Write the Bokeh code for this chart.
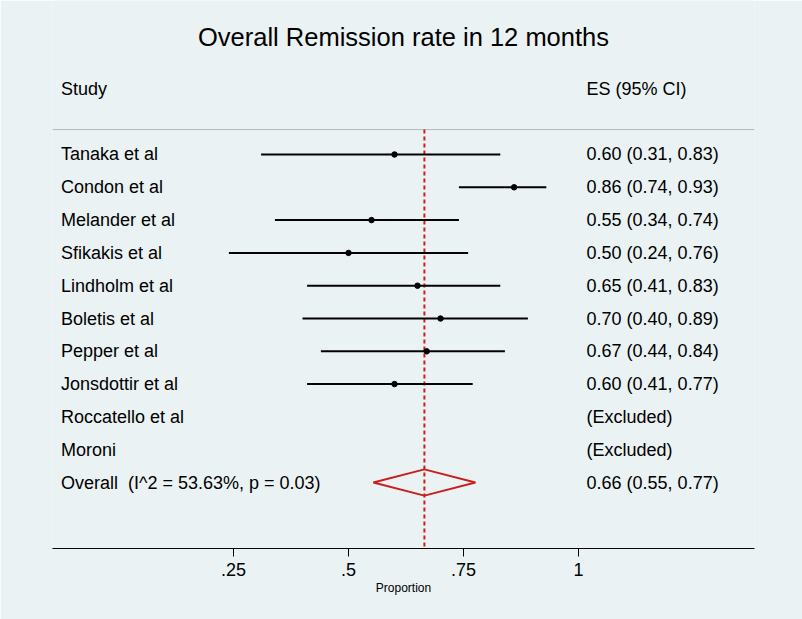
import math
from bokeh.plotting import figure
from bokeh.models import Range1d, FixedTicker, ColumnDataSource
from bokeh.core.properties import value
from bokeh.embed import file_html
from bokeh.resources import INLINE

# ---------------- data ----------------
title_text = "Overall Remission rate in 12 months"
studies = ["Tanaka et al", "Condon et al", "Melander et al", "Sfikakis et al",
           "Lindholm et al", "Boletis et al", "Pepper et al", "Jonsdottir et al",
           "Roccatello et al", "Moroni"]
es = [0.60, 0.86, 0.55, 0.50, 0.65, 0.70, 0.67, 0.60, None, None]
ci_lo = [0.31, 0.74, 0.34, 0.24, 0.41, 0.40, 0.44, 0.41, None, None]
ci_hi = [0.83, 0.93, 0.74, 0.76, 0.83, 0.89, 0.84, 0.77, None, None]
es_labels = ["0.60 (0.31, 0.83)", "0.86 (0.74, 0.93)", "0.55 (0.34, 0.74)",
             "0.50 (0.24, 0.76)", "0.65 (0.41, 0.83)", "0.70 (0.40, 0.89)",
             "0.67 (0.44, 0.84)", "0.60 (0.41, 0.77)", "(Excluded)", "(Excluded)"]
overall_label = "Overall\u00a0\u00a0(I^2 = 53.63%, p = 0.03)"
overall_es = 0.665
overall_lo = 0.554
overall_hi = 0.776
overall_es_label = "0.66 (0.55, 0.77)"
tick_values = [0.25, 0.5, 0.75, 1.0]
tick_labels = [".25", ".5", ".75", "1"]
x_axis_title = "Proportion"

# ---------------- layout ----------------
BG = "#EAF2F3"
RED = "#CC1E1E"
FONT = "Liberation Sans"
FS = "18px"
ROW_TOP = -3.695
ROW_BOTTOM = 13.012
X_START, X_END = -0.1435, 1.3826
LEFT_COL = -0.125
RIGHT_COL = 1.0175
TITLE_ROW = -2.57
HEADER_ROW = -1.01
HLINE_ROW = 0.24
DIAMOND_HALF = 0.4

p = figure(width=802, height=619, output_backend="svg", toolbar_location=None,
           x_range=Range1d(X_START, X_END), y_range=Range1d(ROW_BOTTOM, ROW_TOP),
           min_border_left=52, min_border_right=48, min_border_top=0,
           min_border_bottom=71)
p.background_fill_color = BG
p.border_fill_color = BG
p.outline_line_color = None
p.xgrid.visible = False
p.ygrid.visible = False
p.yaxis.visible = False

ax = p.xaxis[0]
ax.ticker = FixedTicker(ticks=tick_values)
ax.major_label_overrides = {v: l for v, l in zip(tick_values, tick_labels)}
ax.axis_line_color = "black"
ax.axis_line_width = 1
ax.major_tick_in = 0
ax.major_tick_out = 8
ax.major_tick_line_color = "black"
ax.minor_tick_line_color = None
ax.major_label_text_font = FONT
ax.major_label_text_font_size = FS
ax.major_label_text_color = "black"
ax.major_label_standoff = 6
ax.axis_label = x_axis_title
ax.axis_label_text_font = FONT
ax.axis_label_text_font_size = "12px"
ax.axis_label_text_font_style = "normal"
ax.axis_label_text_color = "black"
ax.axis_label_standoff = 2

n = len(studies)
rows = list(range(1, n + 1))
overall_row = n + 1

# title
p.text(x=[(X_START + X_END) / 2], y=[TITLE_ROW], text=[title_text],
       text_font=value(FONT), text_font_size="25.5px", text_align="center",
       text_baseline="middle", text_color="black")

# headers
p.text(x=[LEFT_COL], y=[HEADER_ROW], text=["Study"], text_font=value(FONT),
       text_font_size=FS, text_baseline="middle", text_color="black")
p.text(x=[RIGHT_COL], y=[HEADER_ROW], text=["ES (95% CI)"], text_font=value(FONT),
       text_font_size=FS, text_baseline="middle", text_color="black")

# header separator
p.segment(x0=[X_START], x1=[X_END], y0=[HLINE_ROW], y1=[HLINE_ROW],
          line_color="#B4B8BA", line_width=1)

# reference line at overall estimate
p.segment(x0=[overall_es], x1=[overall_es], y0=[HLINE_ROW], y1=[ROW_BOTTOM],
          line_color=RED, line_width=2, line_dash="4 3")

# study labels
p.text(x=[LEFT_COL] * (n + 1), y=rows + [overall_row], text=studies + [overall_label],
       text_font=value(FONT), text_font_size=FS, text_baseline="middle",
       text_color="black")
p.text(x=[RIGHT_COL] * (n + 1), y=rows + [overall_row],
       text=es_labels + [overall_es_label],
       text_font=value(FONT), text_font_size=FS, text_baseline="middle",
       text_color="black")

# CIs and points
ci_rows = [r for r, e in zip(rows, es) if e is not None]
src = ColumnDataSource(dict(
    y=ci_rows,
    es=[e for e in es if e is not None],
    lo=[l for l in ci_lo if l is not None],
    hi=[h for h in ci_hi if h is not None],
))
p.segment(x0="lo", x1="hi", y0="y", y1="y", source=src, line_color="black", line_width=2)
p.scatter(x="es", y="y", source=src, size=5.5, marker="circle", fill_color="black",
          line_color="black")

# overall diamond
p.patch(x=[overall_lo, overall_es, overall_hi, overall_es],
        y=[overall_row, overall_row - DIAMOND_HALF, overall_row, overall_row + DIAMOND_HALF],
        fill_alpha=0, line_color=RED, line_width=2)

open("out.html", "w").write(file_html(p, INLINE))
